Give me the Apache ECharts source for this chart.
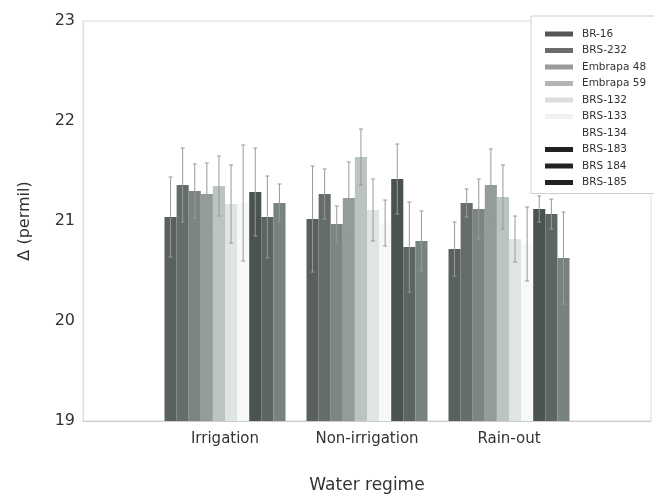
<!DOCTYPE html>
<html>
<head>
<meta charset="utf-8">
<script src="https://cdn.jsdelivr.net/npm/echarts@6/dist/echarts.min.js"></script>
<style>html,body{margin:0;padding:0;background:#fff}#c{width:654px;height:499px}</style>
</head>
<body>
<div id="c"></div>
<script>
var categories = ['Irrigation', 'Non-irrigation', 'Rain-out'];
var categoryPositions = [1, 2, 3];
var yTicks = [19, 20, 21, 22, 23];
var seriesNames = ['BR-16', 'BRS-232', 'Embrapa 48', 'Embrapa 59', 'BRS-132', 'BRS-133', 'BRS-134', 'BRS-183', 'BRS 184', 'BRS-185'];
var br16 = [21.04, 21.02, 20.72];
var brs232 = [21.36, 21.27, 21.18];
var embrapa48 = [21.30, 20.97, 21.12];
var embrapa59 = [21.27, 21.23, 21.36];
var brs132 = [21.35, 21.64, 21.24];
var brs133 = [21.17, 21.11, 20.82];
var brs134 = [21.18, 20.98, 20.77];
var brs183 = [21.29, 21.42, 21.12];
var brs184 = [21.04, 20.74, 21.07];
var brs185 = [21.18, 20.80, 20.63];
var err_br16 = [0.40, 0.53, 0.27];
var err_brs232 = [0.37, 0.25, 0.14];
var err_embrapa48 = [0.27, 0.18, 0.30];
var err_embrapa59 = [0.31, 0.36, 0.36];
var err_brs132 = [0.30, 0.28, 0.32];
var err_brs133 = [0.39, 0.31, 0.23];
var err_brs134 = [0.58, 0.23, 0.37];
var err_brs183 = [0.44, 0.35, 0.13];
var err_brs184 = [0.41, 0.45, 0.15];
var err_brs185 = [0.19, 0.30, 0.46];

var values = [br16, brs232, embrapa48, embrapa59, brs132, brs133, brs134, brs183, brs184, brs185];
var errors = [err_br16, err_brs232, err_embrapa48, err_embrapa59, err_brs132, err_brs133, err_brs134, err_brs183, err_brs184, err_brs185];
var barColors = ['#59615e', '#646d6a', '#7c8582', '#939c99', '#bcc4c2', '#dfe5e3', '#f6f9f8', '#4b5350', '#5c6562', '#78827f'];
var legendColors = ['#555555', '#6b6b6b', '#999999', '#b5b5b5', '#dddddd', '#f1f1f1', '#ffffff', '#222222', '#222222', '#222222'];

var BW = 12.1;
var FONT = 'DejaVu Sans';
var series = [];
var n = seriesNames.length;
values.forEach(function (vals, k) {
  series.push({
    name: seriesNames[k], type: 'bar', barWidth: BW, barGap: '0%',
    itemStyle: { color: barColors[k] },
    data: vals.map(function (v, i) { return [categoryPositions[i], v]; }),
    z: 2
  });
});
values.forEach(function (vals, k) {
  series.push({
    type: 'custom', z: 5, silent: true,
    data: vals.map(function (v, i) { return [categoryPositions[i], v, errors[k][i]]; }),
    renderItem: function (params, api) {
      var x = api.value(0), v = api.value(1), e = api.value(2);
      var hi = api.coord([x, v + e]);
      var lo = api.coord([x, v - e]);
      var cx = hi[0] + (k - (n - 1) / 2) * BW;
      var cap = 2;
      var st = { stroke: '#999999', lineWidth: 1 };
      return { type: 'group', children: [
        { type: 'line', shape: { x1: cx, y1: hi[1], x2: cx, y2: lo[1] }, style: st },
        { type: 'line', shape: { x1: cx - cap, y1: hi[1], x2: cx + cap, y2: hi[1] }, style: st },
        { type: 'line', shape: { x1: cx - cap, y1: lo[1], x2: cx + cap, y2: lo[1] }, style: st }
      ]};
    }
  });
});

var chart = echarts.init(document.getElementById('c'));
chart.setOption({
  animation: false,
  backgroundColor: '#fff',
  textStyle: { fontFamily: FONT },
  grid: { left: 83, right: -5, top: 21, bottom: 78, show: true, borderColor: '#dddddd', borderWidth: 1 },
  legend: {
    orient: 'vertical', left: 531, top: 16,
    backgroundColor: '#fff', borderColor: '#cfcfcf', borderWidth: 1,
    padding: [12, 30, 5, 14],
    itemWidth: 28, itemHeight: 5, itemGap: 4.5, icon: 'rect',
    selectedMode: false,
    textStyle: { fontFamily: FONT, fontSize: 10.5, lineHeight: 12, color: '#333', padding: [0, 0, 0, 4] },
    data: seriesNames.map(function (nm, k) { return { name: nm, itemStyle: { color: legendColors[k] } }; })
  },
  xAxis: {
    type: 'value', min: 0, max: 4, interval: 1,
    axisLine: { show: true, lineStyle: { color: '#cccccc' } },
    axisTick: { show: false }, splitLine: { show: false },
    axisLabel: {
      fontSize: 15, color: '#333', margin: 11, fontFamily: FONT,
      formatter: function (v) { var i = categoryPositions.indexOf(v); return i >= 0 ? categories[i] : ''; }
    },
    name: 'Water regime', nameLocation: 'middle', nameGap: 56,
    nameTextStyle: { fontSize: 17, color: '#333', fontFamily: FONT }
  },
  yAxis: {
    type: 'value', min: yTicks[0], max: yTicks[yTicks.length - 1], interval: 1,
    axisLine: { show: true, lineStyle: { color: '#dddddd' } },
    axisTick: { show: false }, splitLine: { show: false },
    axisLabel: { fontSize: 16, color: '#333', margin: 8, fontFamily: FONT },
    name: 'Δ (permil)', nameLocation: 'middle', nameGap: 50, nameRotate: 90,
    nameTextStyle: { fontSize: 16, color: '#333', fontFamily: FONT }
  },
  series: series
});
</script>
</body>
</html>
